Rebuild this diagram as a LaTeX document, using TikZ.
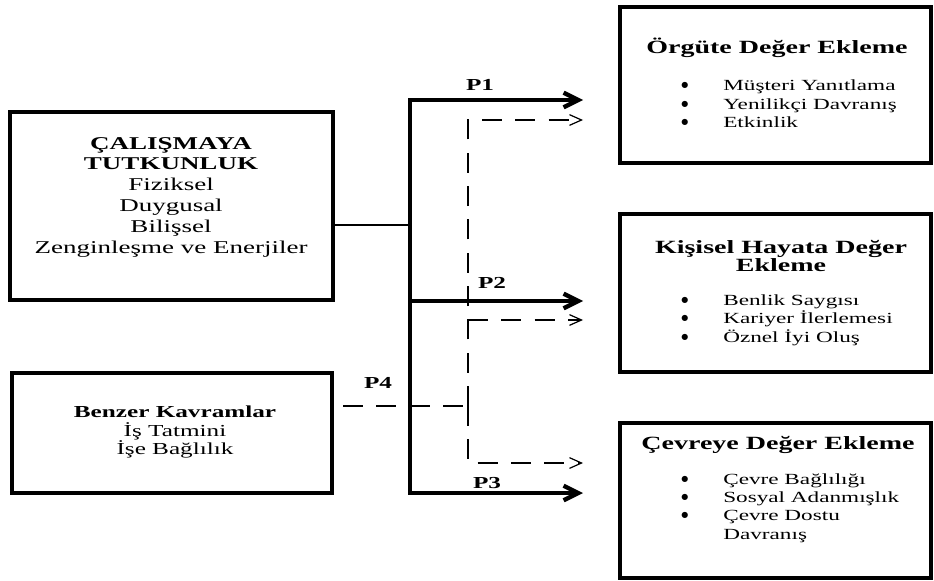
\documentclass[tikz,border=0pt]{standalone}
\usepackage{fontspec}
\setmainfont{Liberation Serif}[FakeStretch=1.5]
\newfontfamily\dotfont{DejaVu Sans}
\usetikzlibrary{arrows.meta,fit}

% bullet column of the item lists
\newcommand{\itembullet}{\makebox[31.5pt][l]{\raisebox{2.2pt}{\dotfont\fontsize{6}{0}\selectfont ●}}}

\begin{document}
\begin{tikzpicture}[x=0.75pt,y=-0.75pt,
  box/.style={draw=black, line width=3pt, inner sep=0pt},
  bodytext/.style={inner sep=0pt, align=center, text=black},
  itemtext/.style={inner sep=0pt, align=left, anchor=west,
    font=\fontsize{11.6}{13.8}\selectfont},
  titletext/.style={inner sep=0pt, align=center,
    font=\fontsize{14}{13.5}\selectfont\bfseries},
  plabel/.style={inner sep=0pt, font=\fontsize{12.6}{14}\selectfont\bfseries},
  thinline/.style={line width=0.8pt},
  boldarrow/.style={line width=3.2pt, line join=miter,
    {Straight Barb[length=11pt,width=11pt]}-{Straight Barb[length=11pt,width=11pt]}},
  boldtip/.style={line width=3.2pt, -{Straight Barb[length=11pt,width=11pt]}},
  dashedline/.style={line width=0.9pt, dash pattern=on 15pt off 10pt},
  dashedarrow/.style={dashedline, -{Straight Barb[length=9pt,width=8pt]}},
]
\useasboundingbox (0,0) rectangle (934,581);

% boxes
\node[box, fit={(10,112) (333,300)}] (A) {};
\node[box, fit={(12,373) (332,493)}] (B) {};
\node[box, fit={(620,7) (931,163)}] (R1) {};
\node[box, fit={(620,214) (931,372)}] (R2) {};
\node[box, fit={(620,423) (931,578)}] (R3) {};

% left box texts
\node[bodytext, font=\fontsize{13.5}{15.6}\selectfont] (Atext) at (171,197)
  {\textbf{ÇALIŞMAYA}\\\textbf{TUTKUNLUK}\\Fiziksel\\Duygusal\\Bilişsel\\Zenginleşme ve Enerjiler};
\node[bodytext, font=\fontsize{12.6}{13.9}\selectfont] (Btext) at (175,432)
  {\textbf{Benzer Kavramlar}\\İş Tatmini\\İşe Bağlılık};

% right box texts
\node[titletext] (R1title) at (777,48) {Örgüte Değer Ekleme};
\node[itemtext] (R1items) at (681,104)
  {\itembullet Müşteri Yanıtlama\\
   \itembullet Yenilikçi Davranış\\
   \itembullet Etkinlik};

\node[titletext] (R2title) at (781,256) {Kişisel Hayata Değer\\Ekleme};
\node[itemtext] (R2items) at (681,320)
  {\itembullet Benlik Saygısı\\
   \itembullet Kariyer İlerlemesi\\
   \itembullet Öznel İyi Oluş};

\node[titletext] (R3title) at (778,445) {Çevreye Değer Ekleme};
\node[itemtext] (R3items) at (681,508)
  {\itembullet Çevre Bağlılığı\\
   \itembullet Sosyal Adanmışlık\\
   \itembullet Çevre Dostu\\
   \hspace*{31.5pt}Davranış};

% junction points
\coordinate (j)  at (410,225);
\coordinate (t1) at (410,100);
\coordinate (t2) at (410,301);
\coordinate (t3) at (410,493);
\coordinate (e1) at (583,100);
\coordinate (e2) at (583,301);
\coordinate (e3) at (583,493);

\coordinate (d0) at (343,406);
\coordinate (dv) at (468,406);
\coordinate (dt) at (468,120);
\coordinate (dm) at (468,320);
\coordinate (db) at (468,463);
\coordinate (f1) at (583,120);
\coordinate (f2) at (583,320);
\coordinate (f3) at (583,463);

% solid paths
\draw[thinline] (A.east |- j) -- (j);
\draw[boldarrow] (e3) -- (t3) -- (t1) -- (e1);
\draw[boldtip] (t2) -- (e2);

% dashed paths
\draw[dashedline] (d0) -- (dv);
\draw[dashedarrow] (dv) -- (dt) -- (f1);
\draw[dashedarrow] (dv) -- (db) -- (f3);
\draw[dashedarrow] (dm) -- (f2);

% path labels
\node[plabel] (P1) at (480,85) {P1};
\node[plabel] (P2) at (492,283) {P2};
\node[plabel] (P3) at (487,483) {P3};
\node[plabel] (P4) at (378,383) {P4};
\end{tikzpicture}
\end{document}
